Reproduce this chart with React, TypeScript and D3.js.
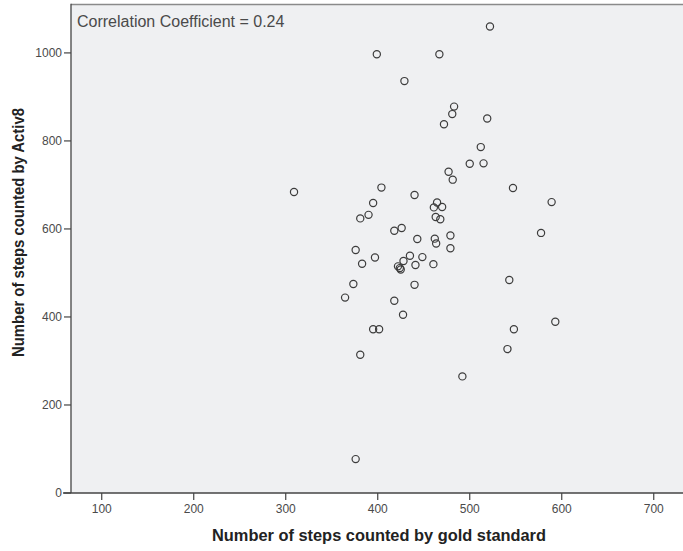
import React from "react";
import * as d3 from "d3";

const goldSteps: number[] = [
  522, 399, 467, 429, 483, 481, 519, 472, 512, 500, 515, 477, 481.5,
  309, 404, 440, 395, 464.5, 461, 470, 390, 381, 463, 468, 426, 418,
  443, 462, 463.5, 479, 479, 376, 397, 383, 435, 448.5, 428, 441, 460.5,
  422, 424, 425, 373.5, 440, 364.5, 418, 427.5, 395, 401.5, 381, 492,
  376, 547, 589, 577.5, 543, 593, 548, 541,
];
const activ8Steps: number[] = [
  1060, 997, 997, 936, 878, 861, 851, 838, 786, 748, 749, 730, 712,
  684, 694, 677, 659, 660, 649, 650, 632, 624, 627, 622, 602, 596,
  577, 578, 567, 585, 556, 552, 535, 521, 539, 536, 527, 518, 520,
  515, 511, 508, 475, 473, 444, 437, 405, 372, 372, 314, 265,
  77, 693, 661, 591, 484, 389, 372, 327,
];
const xTicks: number[] = [100, 200, 300, 400, 500, 600, 700];
const yTicks: number[] = [0, 200, 400, 600, 800, 1000];
const xTitle = "Number of steps counted by gold standard";
const yTitle = "Number of steps counted by Activ8";
const annotation = "Correlation Coefficient = 0.24";

const W = 683;
const H = 551;
const left = 71;
const right = 683;
const top = 4.5;
const bottom = 493;

export default function App() {
  const x = d3.scaleLinear().domain([66.6, 731.8]).range([left, right]);
  const y = d3.scaleLinear().domain([0, 1110]).range([bottom, top]);
  const font = "'Liberation Sans', Arial, sans-serif";
  return (
    <svg
      width={W}
      height={H}
      style={{ position: "absolute", left: 0, top: 0, background: "#fff" }}
      fontFamily={font}
    >
      <rect x={left} y={top} width={right - left} height={bottom - top} fill="#eff0f2" />
      <line x1={left} x2={right} y1={top} y2={top} stroke="#8a8a8a" strokeWidth={1.6} />
      <line x1={left} x2={left} y1={top - 0.8} y2={bottom} stroke="#444" strokeWidth={1.3} />
      <line x1={left - 8} x2={right} y1={bottom} y2={bottom} stroke="#444" strokeWidth={1.3} />
      {yTicks.map((t) => (
        <g key={"y" + t}>
          <line x1={left - 7} x2={left} y1={y(t)} y2={y(t)} stroke="#444" strokeWidth={1.2} />
          <text x={left - 9} y={y(t)} dy="0.35em" textAnchor="end" fontSize={12} fill="#4a4a4a">
            {t}
          </text>
        </g>
      ))}
      {xTicks.map((t) => (
        <g key={"x" + t}>
          <line x1={x(t)} x2={x(t)} y1={bottom} y2={bottom + 7} stroke="#444" strokeWidth={1.2} />
          <text x={x(t)} y={bottom + 20} textAnchor="middle" fontSize={12} fill="#4a4a4a">
            {t}
          </text>
        </g>
      ))}
      <text x={77} y={27} fontSize={16} fill="#4a4a4a">
        {annotation}
      </text>
      {goldSteps.map((g, i) => (
        <circle
          key={i}
          cx={x(g)}
          cy={y(activ8Steps[i])}
          r={3.6}
          fill="none"
          stroke="#3c3c3c"
          strokeWidth={1.2}
        />
      ))}
      <text
        x={379}
        y={541}
        textAnchor="middle"
        fontSize={16.5}
        fontWeight="bold"
        fill="#222"
        textLength={334}
        lengthAdjust="spacingAndGlyphs"
      >
        {xTitle}
      </text>
      <text
        transform={`translate(24, 232.5) rotate(-90)`}
        textAnchor="middle"
        fontSize={16}
        fontWeight="bold"
        fill="#222"
        textLength={249}
        lengthAdjust="spacingAndGlyphs"
      >
        {yTitle}
      </text>
    </svg>
  );
}
